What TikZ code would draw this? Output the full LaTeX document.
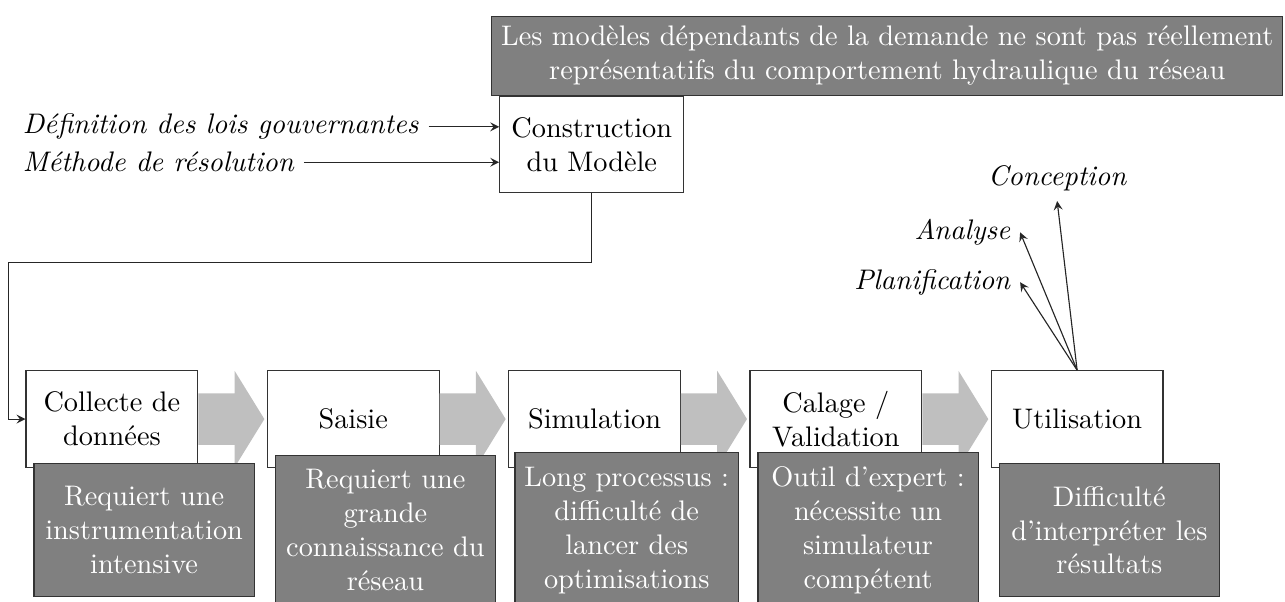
\documentclass[tikz,border=0pt]{standalone}
\usepackage{tikz}
\usetikzlibrary{positioning, calc}

\begin{document}
\begin{tikzpicture}[
  node distance=0.85cm,
  stage/.style={rectangle, draw=black!80, fill=white, minimum width=2.133cm,
                align=center, minimum height=1.2cm},
  issue/.style={rectangle, draw=black!80, fill=gray, text=white, align=center},
  issuebox/.style={issue, minimum width=2.735cm, minimum height=1.65cm,
                   inner ysep=5pt},
  usage/.style={font=\itshape},
  flow/.style={fill=gray!50},
  link/.style={-stealth, black!85},
]
\useasboundingbox (0,0) rectangle (15.96,7.465);

% model construction
\node[stage, minimum width=2.285cm] (modele) at (7.35,5.67) {Construction\\du Modèle};
\node[issue, anchor=south west] (demande) at ($(modele.north west)+(-0.1,0)$)
  {Les modèles dépendants de la demande ne sont pas réellement\\
   représentatifs du comportement hydraulique du réseau};

\node[usage, anchor=west] (lois) at (0.16,5.89) {Définition des lois gouvernantes};
\node[usage, anchor=west] (methode) at (0.16,5.45) {Méthode de résolution};
\draw[link] (lois.east) -- (lois.east -| modele.west);
\draw[link] (methode.east) -- (methode.east -| modele.west);

% process stages
\node[stage] (collecte) at (1.39,2.26) {Collecte de\\données};
\node[stage, right=of collecte] (saisie) {Saisie};
\node[stage, right=of saisie] (simulation) {Simulation};
\node[stage, right=of simulation] (calage) {Calage /\\Validation};
\node[stage, right=of calage] (utilisation) {Utilisation};

\coordinate (coin) at (0.11,4.21);
\draw[link] (modele.south) |- (coin) |- (collecte.west);

\foreach \a/\b in {collecte/saisie, saisie/simulation, simulation/calage, calage/utilisation}
  \fill[flow] ($(\a.east)+(0,0.32)$) -- ++(0.45,0) -- ++(0,0.28)
    -- ($(\b.west)+(-0.03,0)$) -- ($(\a.east)+(0.45,-0.6)$) -- ++(0,0.28)
    -- ($(\a.east)+(0,-0.32)$) -- cycle;

% difficulties
\node[issuebox, xshift=0.4cm, yshift=-1.38cm] (instrum) at (collecte)
  {Requiert une\\instrumentation\\intensive};
\node[issuebox, xshift=0.4cm, yshift=-1.38cm] (connaiss) at (saisie)
  {Requiert une\\grande\\connaissance du\\réseau};
\node[issuebox, xshift=0.4cm, yshift=-1.38cm] (processus) at (simulation)
  {Long processus :\\difficulté de\\lancer des\\optimisations};
\node[issuebox, xshift=0.4cm, yshift=-1.38cm] (expert) at (calage)
  {Outil d'expert :\\nécessite un\\simulateur\\compétent};
\node[issuebox, xshift=0.4cm, yshift=-1.38cm] (interpret) at (utilisation)
  {Difficulté\\d'interpréter les\\résultats};

% uses
\node[usage, anchor=east] (planif) at (12.67,3.96) {Planification};
\node[usage, anchor=east] (analyse) at (12.67,4.58) {Analyse};
\node[usage] (conception) at (13.13,5.25) {Conception};
\draw[link] (utilisation.north) -- (planif.east);
\draw[link] (utilisation.north) -- (analyse.east);
\draw[link] (utilisation.north) -- (conception.south);

\end{tikzpicture}
\end{document}
